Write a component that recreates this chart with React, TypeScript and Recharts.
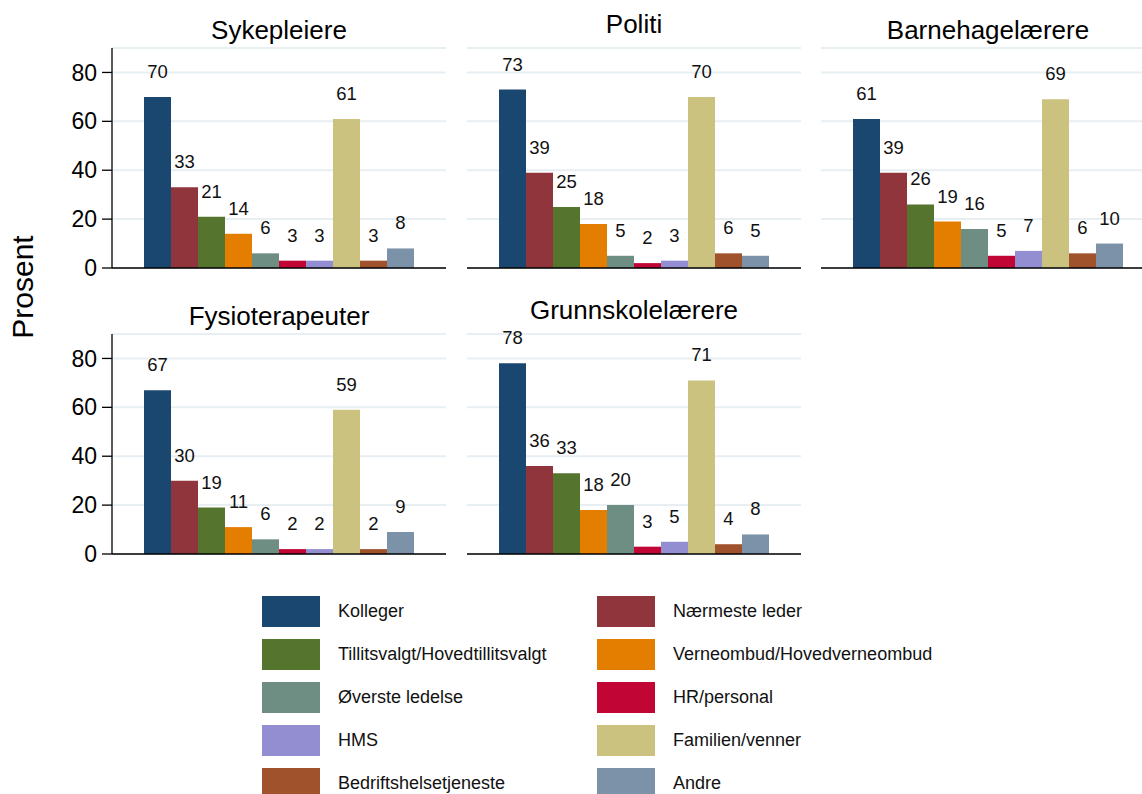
import React from 'react';
import { BarChart, Bar, XAxis, YAxis, CartesianGrid, LabelList } from 'recharts';

const categories = [
  'Kolleger',
  'Nærmeste leder',
  'Tillitsvalgt/Hovedtillitsvalgt',
  'Verneombud/Hovedverneombud',
  'Øverste ledelse',
  'HR/personal',
  'HMS',
  'Familien/venner',
  'Bedriftshelsetjeneste',
  'Andre',
];

const colors = [
  '#1a476f',
  '#90353b',
  '#55752f',
  '#e37e00',
  '#6e8e84',
  '#c10534',
  '#938dd2',
  '#cac27e',
  '#a0522d',
  '#7b92a8',
];

const professions = ['Sykepleiere', 'Politi', 'Barnehagelærere', 'Fysioterapeuter', 'Grunnskolelærere'];

const sykepleiere = [70, 33, 21, 14, 6, 3, 3, 61, 3, 8];
const politi = [73, 39, 25, 18, 5, 2, 3, 70, 6, 5];
const barnehagelaerere = [61, 39, 26, 19, 16, 5, 7, 69, 6, 10];
const fysioterapeuter = [67, 30, 19, 11, 6, 2, 2, 59, 2, 9];
const grunnskolelaerere = [78, 36, 33, 18, 20, 3, 5, 71, 4, 8];

const yTicks = [0, 20, 40, 60, 80];
const yLabel = 'Prosent';

const seriesByProfession = [sykepleiere, politi, barnehagelaerere, fysioterapeuter, grunnskolelaerere];

const FONT = '"Liberation Sans", Arial, sans-serif';
const PLOT_W = 334;
const PLOT_H = 220;
const AXIS_W = 70;
const TOP_PAD = 40;
const BOTTOM_PAD = 24;
const colLefts = [112, 467, 821];
const rowTops = [48, 334];

const Panel = ({ idx }: { idx: number }) => {
  const col = idx % 3;
  const row = Math.floor(idx / 3);
  const values = seriesByProfession[idx];
  const rowData: Record<string, any> = { name: professions[idx] };
  values.forEach((v, i) => {
    rowData[`k${i}`] = v;
  });
  const showY = col === 0;
  const width = PLOT_W + (showY ? AXIS_W : 0);
  const left = colLefts[col] - (showY ? AXIS_W : 0);

  return (
    <div style={{ position: 'absolute', left, top: rowTops[row] - TOP_PAD }}>
      <BarChart
        width={width}
        height={PLOT_H + TOP_PAD + BOTTOM_PAD + 1}
        data={[rowData]}
        margin={{ top: TOP_PAD, right: 0, left: 0, bottom: BOTTOM_PAD }}
        barCategoryGap={32}
        barGap={0}
      >
        <CartesianGrid vertical={false} stroke="#e7eff2" strokeWidth={2} />
        <XAxis
          dataKey="name"
          height={1}
          tick={false}
          tickLine={false}
          axisLine={{ stroke: '#000', strokeWidth: 1.6 }}
        />
        <YAxis
          hide={!showY}
          width={AXIS_W}
          domain={[0, 90]}
          ticks={yTicks}
          interval={0}
          tickSize={10}
          tickMargin={5}
          tickLine={{ stroke: '#000', strokeWidth: 1.3 }}
          axisLine={{ stroke: '#000', strokeWidth: 1.3 }}
          tick={{ fontSize: 23, fill: '#000', fontFamily: FONT }}
        />
        {categories.map((c, i) => (
          <Bar key={c} dataKey={`k${i}`} name={c} fill={colors[i]} isAnimationActive={false}>
            <LabelList
              dataKey={`k${i}`}
              position="top"
              offset={19}
              style={{ fontSize: 18.5, fill: '#111', fontFamily: FONT }}
            />
          </Bar>
        ))}
      </BarChart>
    </div>
  );
};

export default function App() {
  return (
    <div
      style={{
        position: 'absolute',
        left: 0,
        top: 0,
        width: 1142,
        height: 794,
        overflow: 'hidden',
        background: '#fff',
        fontFamily: FONT,
      }}
    >
      {professions.map((p, i) => (
        <Panel key={p} idx={i} />
      ))}

      <svg width={1142} height={794} style={{ position: 'absolute', left: 0, top: 0, pointerEvents: 'none' }}>
        {professions.map((p, i) => {
          const col = i % 3;
          const row = Math.floor(i / 3);
          // Stata sets the title by its bounding box, so titles with descenders sit lower
          const shift = /[gjpqy]/.test(p) ? 9 : 15;
          return (
            <text
              key={p}
              x={colLefts[col] + PLOT_W / 2}
              y={rowTops[row] - shift}
              textAnchor="middle"
              fontSize={26}
              fontFamily={FONT}
              fill="#000"
            >
              {p}
            </text>
          );
        })}
        <text
          transform="translate(33, 287) rotate(-90)"
          textAnchor="middle"
          fontSize={30}
          fontFamily={FONT}
          fill="#000"
        >
          {yLabel}
        </text>
      </svg>

      <div
        style={{
          position: 'absolute',
          left: 262,
          top: 596,
          display: 'grid',
          gridTemplateColumns: '335px 335px',
          rowGap: 12,
        }}
      >
        {categories.map((c, i) => (
          <div key={c} style={{ display: 'flex', alignItems: 'center', height: 31 }}>
            <div style={{ width: 58, height: 31, background: colors[i], marginRight: 18, flex: 'none' }} />
            <span style={{ fontSize: 18, color: '#111', whiteSpace: 'nowrap' }}>{c}</span>
          </div>
        ))}
      </div>
    </div>
  );
}
